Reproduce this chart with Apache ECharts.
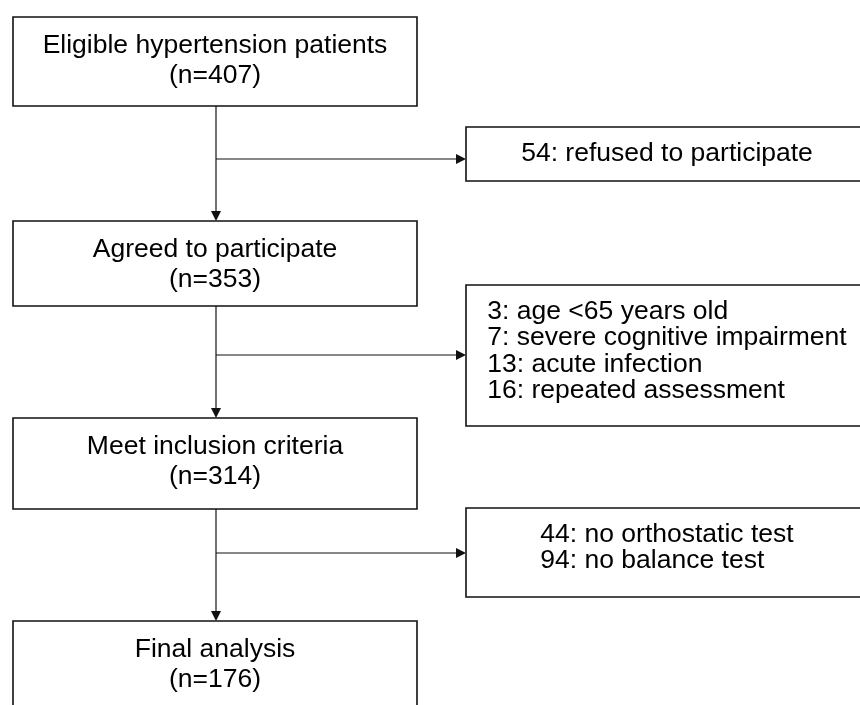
<!DOCTYPE html>
<html>
<head>
<meta charset="utf-8">
<title>Flow of participants</title>
<script src="https://cdn.jsdelivr.net/npm/echarts@6/dist/echarts.min.js"></script>
<style>
  html, body { margin: 0; padding: 0; background: #fff; }
  #flow { width: 860px; height: 705px; }
</style>
</head>
<body>
<div id="flow"></div>
<script>
// ---- data ----
var stageNames = ['Eligible hypertension patients', 'Agreed to participate', 'Meet inclusion criteria', 'Final analysis'];
var stageCounts = [407, 353, 314, 176];
var excludedCounts = [[54], [3, 7, 13, 16], [44, 94]];
var excludedReasons = [
    ['refused to participate'],
    ['age <65 years old', 'severe cognitive impairment', 'acute infection', 'repeated assessment'],
    ['no orthostatic test', 'no balance test']
];

// ---- layout (page pixels, mapped through hidden value axes) ----
var mainLeft = 13, mainRight = 417, spineX = 216;
var mainTop = [17, 221, 418, 621];
var mainBottom = [106, 306, 509, 725];
var sideLeft = 466, sideRight = 880;
var sideTop = [127, 285, 508];
var sideBottom = [181, 426, 597];
var branchY = [159, 355, 553];

var FONT = "'Liberation Sans', Arial, sans-serif";
var FS = 26.5;
var INK = '#111';

var ctx = document.createElement('canvas').getContext('2d');
ctx.font = FS + 'px ' + FONT;

function arrowDown(p) {
    return { type: 'polygon', shape: { points: [[p[0] - 5, p[1] - 10], [p[0] + 5, p[1] - 10], [p[0], p[1]]] }, style: { fill: INK } };
}
function arrowRight(p) {
    return { type: 'polygon', shape: { points: [[p[0] - 10, p[1] - 5], [p[0] - 10, p[1] + 5], [p[0], p[1]]] }, style: { fill: INK } };
}

function renderStage(params, api) {
    var i = api.value(0);
    var tl = api.coord([mainLeft, mainTop[i]]);
    var br = api.coord([mainRight, mainBottom[i]]);
    var kids = [
        { type: 'rect', shape: { x: tl[0], y: tl[1], width: br[0] - tl[0], height: br[1] - tl[1] },
          style: { fill: '#fff', stroke: INK, lineWidth: 1.6 } },
        { type: 'text', style: {
            text: stageNames[i] + '\n(n=' + api.value(1) + ')',
            x: (tl[0] + br[0]) / 2, y: tl[1] + 44,
            align: 'center', verticalAlign: 'middle',
            fontSize: FS, fontFamily: FONT, lineHeight: 30, fill: '#000' } }
    ];
    if (i > 0) {
        var from = api.coord([spineX, mainBottom[i - 1]]);
        var to = api.coord([spineX, mainTop[i]]);
        kids.push({ type: 'line', shape: { x1: from[0], y1: from[1], x2: to[0], y2: to[1] - 9 },
                    style: { stroke: INK, lineWidth: 1.2 } });
        kids.push(arrowDown(to));
    }
    return { type: 'group', children: kids };
}

function renderExcluded(params, api) {
    var i = api.value(0);
    var tl = api.coord([sideLeft, sideTop[i]]);
    var br = api.coord([sideRight, sideBottom[i]]);
    var lines = excludedReasons[i].map(function (r, k) {
        return excludedCounts[i][k] + ': ' + r;
    });
    var maxW = 0;
    lines.forEach(function (l) { maxW = Math.max(maxW, ctx.measureText(l).width); });
    var cx = (tl[0] + br[0]) / 2 - 6;
    var start = api.coord([spineX, branchY[i]]);
    var end = api.coord([sideLeft, branchY[i]]);
    return { type: 'group', children: [
        { type: 'rect', shape: { x: tl[0], y: tl[1], width: br[0] - tl[0], height: br[1] - tl[1] },
          style: { fill: '#fff', stroke: INK, lineWidth: 1.6 } },
        { type: 'text', style: {
            text: lines.join('\n'),
            x: cx - maxW / 2, y: tl[1] + 13,
            align: 'left', verticalAlign: 'top',
            fontSize: FS, fontFamily: FONT, lineHeight: 26.5, fill: '#000' } },
        { type: 'line', shape: { x1: start[0], y1: start[1], x2: end[0] - 9, y2: end[1] },
          style: { stroke: INK, lineWidth: 1.2 } },
        arrowRight(end)
    ] };
}

var chart = echarts.init(document.getElementById('flow'), null, { renderer: 'canvas' });
chart.setOption({
    animation: false,
    backgroundColor: '#fff',
    grid: { left: 0, right: 0, top: 0, bottom: 0 },
    xAxis: { type: 'value', min: 0, max: 860, show: false },
    yAxis: { type: 'value', min: 0, max: 705, inverse: true, show: false },
    series: [
        {
            type: 'custom',
            name: 'stages',
            renderItem: renderStage,
            data: stageCounts.map(function (c, i) { return [i, c]; })
        },
        {
            type: 'custom',
            name: 'excluded',
            renderItem: renderExcluded,
            data: excludedCounts.map(function (c, i) { return [i, c.length]; })
        }
    ]
});
</script>
</body>
</html>
